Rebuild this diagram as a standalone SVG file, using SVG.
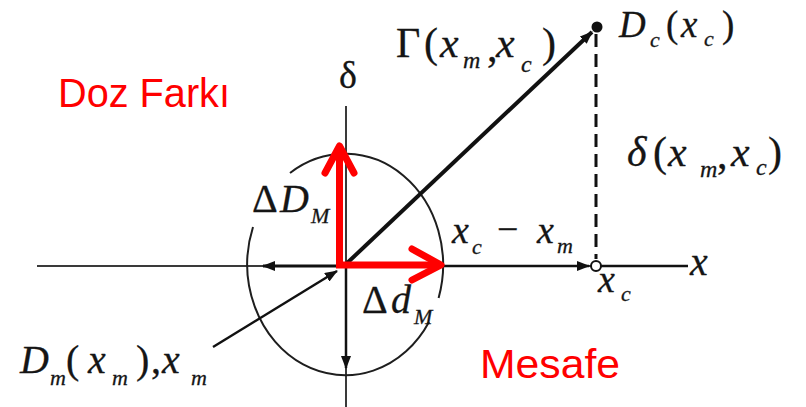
<svg xmlns="http://www.w3.org/2000/svg" width="806" height="407" viewBox="0 0 806 407">
<defs>
<style>
.bg{fill:#ffffff}
.axis{stroke:#3a3a3a;stroke-width:2;fill:none}
.ln{stroke:#111;fill:none}
.ell{stroke:#1e1e1e;stroke-width:2;fill:none}
.red{stroke:#ff0000;stroke-width:7;fill:none}
.redcap{stroke:#ff0000;stroke-width:7;fill:none;stroke-linecap:round;stroke-linejoin:round}
.t{font-family:"Liberation Serif","Times New Roman",serif;fill:#151515;stroke:#151515;stroke-width:0.3}
.it{font-style:italic}
.rt{font-family:"Liberation Sans",Arial,sans-serif;fill:#ff0000;font-size:41px}
</style>
<marker id="ah" markerUnits="userSpaceOnUse" markerWidth="13" markerHeight="10" refX="12" refY="5" orient="auto">
<path d="M0,0 L13,5 L0,10 Z" fill="#111"/>
</marker>
</defs>
<rect class="bg" x="0" y="0" width="806" height="407"/>

<g id="axes">
<line class="axis" x1="37" y1="266" x2="688" y2="266"/>
<line class="axis" x1="346" y1="106" x2="346" y2="407"/>
<path class="ell" d="M429,322 A98,111 0 0 1 253,227"/>
<path class="ell" d="M290,173 A98,111 0 0 1 438.6,298"/>
</g>

<g id="connectors">
<line class="ln" stroke-width="4" x1="345" y1="265" x2="592" y2="32" marker-end="url(#ah)"/>
<line class="ln" stroke-width="3" stroke-dasharray="13,7" x1="596" y1="34" x2="596" y2="259"/>
<line class="ln" stroke-width="3" x1="342" y1="266" x2="263" y2="266" marker-end="url(#ah)"/>
<line class="ln" stroke-width="2.5" x1="346" y1="266" x2="346" y2="368" marker-end="url(#ah)"/>
<line class="ln" stroke-width="2.5" x1="443" y1="266" x2="589" y2="266" marker-end="url(#ah)"/>
<line class="ln" stroke-width="2.5" x1="601" y1="266" x2="688" y2="266"/>
<line class="ln" stroke-width="2.5" x1="213" y1="347" x2="337" y2="271" marker-end="url(#ah)"/>
</g>

<g id="red-arrows">
<path class="red" d="M339.5,147 L339.5,265 L440,265" stroke-linejoin="miter"/>
<path class="redcap" d="M325,173 L339.5,146 L354,173"/>
<path class="redcap" d="M412,249 L441,265 L412,280"/>
</g>

<g id="node-Dc">
<circle cx="597" cy="27" r="5.5" fill="#111"/>
<text class="t" font-size="37"><tspan class="it" x="619" y="37">D</tspan><tspan class="it" font-size="22" x="650" y="47">c</tspan><tspan x="666" y="37">(</tspan><tspan class="it" x="681" y="37">x</tspan><tspan class="it" font-size="22" x="704" y="46">c</tspan><tspan x="722" y="37">)</tspan></text>
</g>

<g id="node-xc">
<circle cx="596" cy="266" r="5" fill="#fff" stroke="#111" stroke-width="2"/>
<text class="t" font-size="38"><tspan class="it" x="598" y="292">x</tspan><tspan class="it" font-size="22" x="621" y="301">c</tspan></text>
</g>

<g id="label-gamma">
<text class="t" font-size="42"><tspan x="396" y="57">Γ</tspan><tspan x="424" y="57">(</tspan><tspan class="it" x="440" y="57">x</tspan><tspan class="it" font-size="24" x="463" y="68">m</tspan><tspan x="487" y="61">,</tspan><tspan class="it" x="496" y="57">x</tspan><tspan class="it" font-size="24" x="521" y="72">c</tspan><tspan x="542" y="57">)</tspan></text>
</g>

<g id="label-delta-axis">
<text class="t" font-size="38" x="339" y="88">δ</text>
</g>

<g id="label-delta">
<text class="t" font-size="42"><tspan class="it" x="627" y="166">δ</tspan><tspan x="653" y="166">(</tspan><tspan class="it" x="668" y="166">x</tspan><tspan class="it" font-size="24" x="700" y="177">m</tspan><tspan x="717" y="168">,</tspan><tspan class="it" x="731" y="166">x</tspan><tspan class="it" font-size="24" x="756" y="175">c</tspan><tspan x="768" y="166">)</tspan></text>
</g>

<g id="label-dDM">
<text class="t" font-size="40"><tspan x="252" y="212">Δ</tspan><tspan class="it" x="280" y="212">D</tspan><tspan class="it" font-size="22" x="311" y="223">M</tspan></text>
</g>

<g id="label-ddM">
<text class="t" font-size="40"><tspan x="362" y="313">Δ</tspan><tspan class="it" x="391" y="313">d</tspan><tspan class="it" font-size="22" x="414" y="324">M</tspan></text>
</g>

<g id="label-xc-xm">
<text class="t" font-size="38"><tspan class="it" x="452" y="243">x</tspan><tspan class="it" font-size="22" x="472" y="254">c</tspan><tspan x="497" y="242">−</tspan><tspan class="it" x="537" y="243">x</tspan><tspan class="it" font-size="22" x="557" y="253">m</tspan></text>
</g>

<g id="label-x">
<text class="t it" font-size="40" x="690" y="275">x</text>
</g>

<g id="node-Dm">
<text class="t" font-size="40"><tspan class="it" x="20" y="373">D</tspan><tspan class="it" font-size="22" x="50" y="385">m</tspan><tspan x="66" y="373">(</tspan><tspan class="it" x="88" y="373">x</tspan><tspan class="it" font-size="22" x="112" y="385">m</tspan><tspan x="136" y="373">)</tspan><tspan x="151" y="373">,</tspan><tspan class="it" x="162" y="373">x</tspan><tspan class="it" font-size="22" x="191" y="385">m</tspan></text>
</g>

<g id="label-doz">
<text class="rt" x="58" y="107" textLength="172" lengthAdjust="spacingAndGlyphs">Doz Farkı</text>
</g>
<g id="label-mesafe">
<text class="rt" x="480" y="378" textLength="140" lengthAdjust="spacingAndGlyphs">Mesafe</text>
</g>
</svg>
